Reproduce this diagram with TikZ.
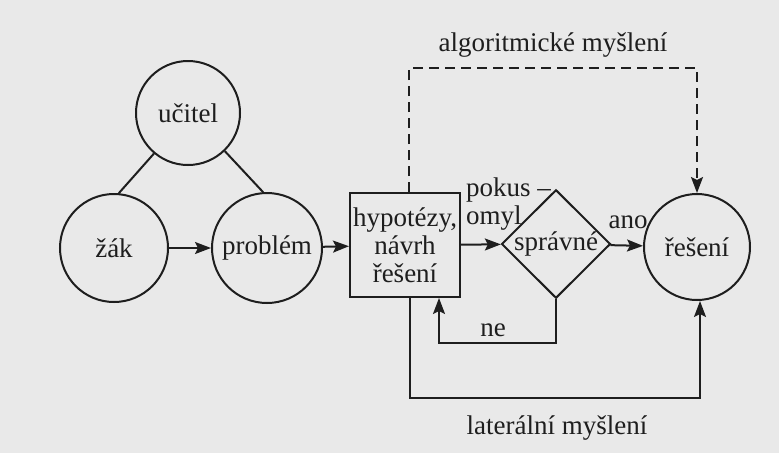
\documentclass[tikz,border=0pt]{standalone}
\usepackage{fontspec}
\setmainfont{Liberation Serif}
\usetikzlibrary{shapes.geometric,arrows.meta}
\definecolor{bg}{HTML}{E9E9E9}
\definecolor{ink}{HTML}{1E1E1E}
\tikzset{
  lbl/.style={text=ink,font=\fontsize{27}{28}\selectfont,inner sep=0pt},
  circ/.style={circle,draw=ink,line width=2pt,inner sep=0pt,lbl},
  conn/.style={draw=ink,line width=2pt},
  arr/.style={conn,-{Stealth[length=16pt,width=12pt,inset=3pt]}},
}
\begin{document}
\begin{tikzpicture}[x=1pt,y=-1pt]
\fill[bg] (0,0) rectangle (779,453);
\useasboundingbox (0,0) rectangle (779,453);

\node[circ,minimum size=104pt] (ucitel) at (188,113) {učitel};
\node[circ,minimum size=108pt] (zak) at (114,248) {žák};
\node[circ,minimum size=110pt] (problem) at (267,248) {problém};
\node[rectangle,draw=ink,line width=2pt,lbl,minimum width=110pt,minimum height=104pt,align=center] (hyp) at (405,245) {hypotézy,\\návrh\\řešení};
\node[diamond,draw=ink,line width=2pt,lbl,minimum width=109pt,minimum height=102pt,inner sep=0pt] (spr) at (556,244) {správné};
\node[circ,minimum size=106pt] (reseni) at (697,247) {řešení};

\node[lbl,anchor=west,align=left] (pokus) at (466,204) {pokus –\\omyl};
\node[lbl] (ano) at (628,222) {ano};
\node[lbl] (ne) at (493,330) {ne};
\node[lbl] (alg) at (553,45) {algoritmické myšlení};
\node[lbl] (lat) at (557,428) {laterální myšlení};

\draw[conn] (ucitel.230) -- (zak.85);
\draw[conn] (ucitel.314) -- (problem.94);
\draw[arr] (zak) -- (problem);
\draw[arr] (problem) -- (hyp);
\draw[arr] (hyp) -- (spr);
\draw[arr] (spr) -- (reseni);

\coordinate (dtop) at (409,68);
\coordinate (dright) at (697,68);
\draw[arr,dash pattern=on 10pt off 6pt] (hyp.north -| dtop) -- (dtop) -- (dright) -- (reseni.north);

\coordinate (lbot) at (410,398);
\coordinate (lright) at (700,398);
\draw[arr] (hyp.south -| lbot) -- (lbot) -- (lright) -- (reseni.south -| lright);

\coordinate (nbot) at (556,343);
\coordinate (nleft) at (439,343);
\draw[arr] (spr.south) -- (nbot) -- (nleft) -- (hyp.south -| nleft);
\end{tikzpicture}
\end{document}
